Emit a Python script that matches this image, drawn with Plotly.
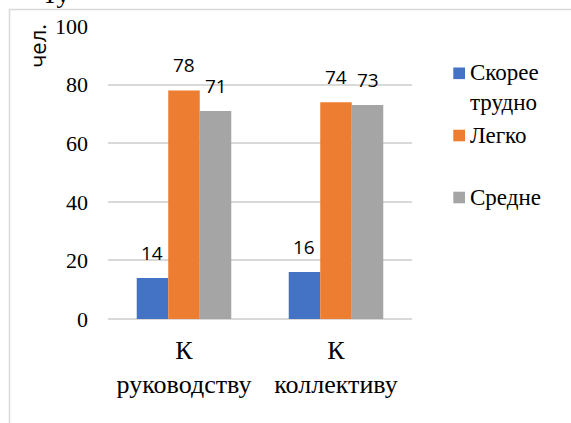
import plotly.graph_objects as go

# Survey data: how easy it is to approach management / colleagues (people)
categories = ["К<br>руководству", "К<br>коллективу"]
series_names = ["Скорее<br>трудно", "Легко", "Средне"]
series_values = [
    [14, 16],   # Скорее трудно
    [78, 74],   # Легко
    [71, 73],   # Средне
]
series_colors = ["#4472C4", "#ED7D31", "#A5A5A5"]
y_ticks = [0, 20, 40, 60, 80, 100]
y_title = "чел."

SERIF = "Liberation Serif"
SANS = "Open Sans"

W, H = 571, 423
L, R, T, B = 108, 159, 26, 104
BARGAP = 0.378

def px_x(p):
    return (p - L) / (W - L - R)

def px_y(p):
    return (H - B - p) / (H - T - B)

fig = go.Figure()
for name, vals, col in zip(series_names, series_values, series_colors):
    fig.add_trace(go.Bar(
        x=categories, y=vals, name=name,
        marker=dict(color=col, line=dict(width=0)),
        showlegend=False,
    ))

# value labels above each bar
slot = (1 - BARGAP) / len(series_values)
annotations = []
for j, vals in enumerate(series_values):
    for i, v in enumerate(vals):
        annotations.append(dict(
            x=i + (j - (len(series_values) - 1) / 2) * slot, y=v,
            xref="x", yref="y", text=str(v), showarrow=False,
            yanchor="middle", yshift=25,
            font=dict(family=SANS, size=19, color="black"),
        ))

# y-axis title
annotations.append(dict(
    x=px_x(37), y=px_y(46), xref="paper", yref="paper", text=y_title,
    textangle=-90, showarrow=False, xanchor="center", yanchor="middle",
    font=dict(family=SANS, size=22, color="black"),
))

# heading fragment above the frame
annotations.append(dict(
    x=px_x(40), y=px_y(11), xref="paper", yref="paper", text="Ту",
    showarrow=False, xanchor="left", yanchor="bottom",
    font=dict(family=SERIF, size=26, color="black"),
))

# legend drawn as squares and labels
shapes = []
legend_rows = [73.3, 135.5, 197.5]
line_h = 29.0
for name, col, yc in zip(series_names, series_colors, legend_rows):
    shapes.append(dict(
        type="rect", xref="paper", yref="paper",
        x0=px_x(453.3), x1=px_x(465), y0=px_y(yc - 5.8), y1=px_y(yc + 5.8),
        fillcolor=col, line=dict(width=0),
    ))
    n_lines = name.count("<br>") + 1
    annotations.append(dict(
        x=px_x(468), y=px_y(yc + (n_lines - 1) * line_h / 2),
        xref="paper", yref="paper", text=name, showarrow=False,
        xanchor="left", yanchor="middle", align="left",
        font=dict(family=SERIF, size=23, color="black"),
    ))

# outer chart frame
shapes.append(dict(
    type="rect", xref="paper", yref="paper",
    x0=px_x(9.5), y0=px_y(9.5), x1=px_x(W + 20), y1=px_y(H + 20),
    line=dict(color="#D9D9D9", width=1.5), fillcolor="rgba(0,0,0,0)",
    layer="below",
))

fig.update_layout(
    width=W, height=H,
    margin=dict(l=L, r=R, t=T, b=B, pad=0),
    paper_bgcolor="white", plot_bgcolor="white",
    barmode="group", bargap=BARGAP, bargroupgap=0,
    showlegend=False,
    font=dict(family=SERIF, color="black"),
    annotations=annotations, shapes=shapes,
    xaxis=dict(
        type="category", showgrid=False, zeroline=False, showline=False,
        ticks="", ticklabelstandoff=13,
        tickfont=dict(family=SERIF, size=26, color="black"),
    ),
    yaxis=dict(
        range=[0, 100], tickvals=y_ticks, ticktext=[str(t) for t in y_ticks],
        showgrid=True, gridcolor="#D9D9D9", gridwidth=1.5,
        zeroline=True, zerolinecolor="#D9D9D9", zerolinewidth=1.5,
        showline=False, ticks="", ticklabelstandoff=19,
        tickfont=dict(family=SERIF, size=22, color="black"),
    ),
)

fig.write_html("out.html")
